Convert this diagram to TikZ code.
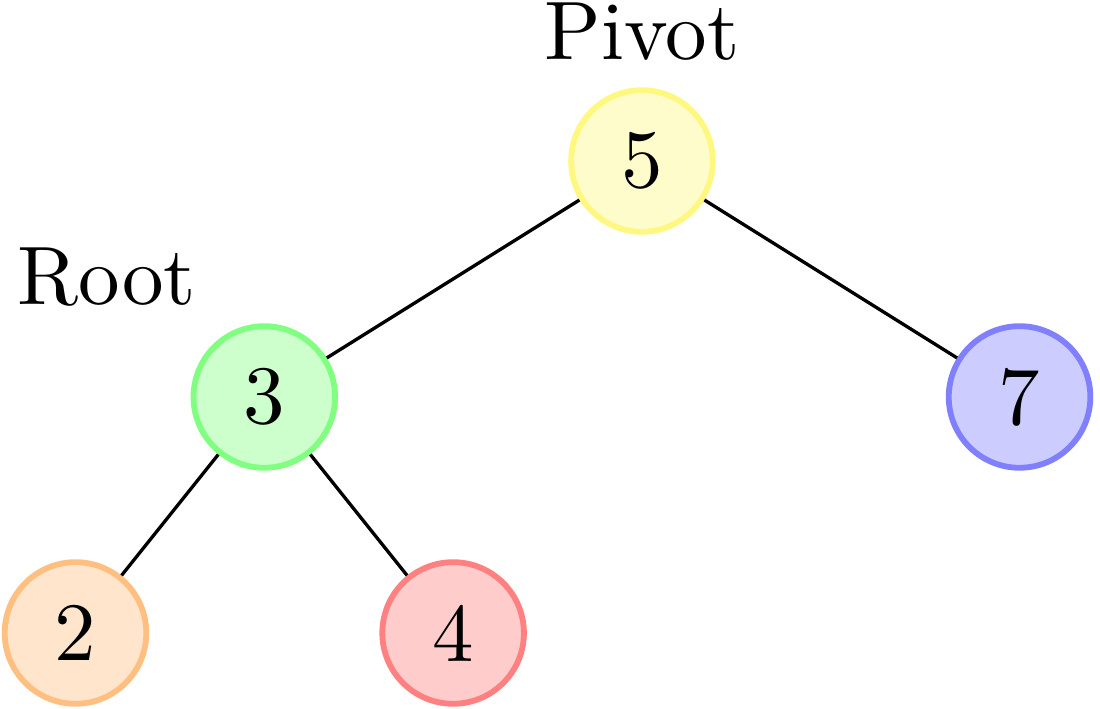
\documentclass[tikz,border=0pt]{standalone}
\usepackage{tikz}

\begin{document}
\begin{tikzpicture}[
    vertex/.style={circle, draw, line width=0.7pt, minimum size=0.6cm, inner sep=0pt},
    link/.style={draw, black}
]
\useasboundingbox (-2.72,-2.318) rectangle (1.941,0.682);

% Pivot
\node[vertex, draw=yellow!50, fill=yellow!20] (n5) at (0,0) {5};
\node (pivot) at (0,0.55) {Pivot};

% Root
\node[vertex, draw=green!50, fill=green!20] (n3) at (-1.6,-1) {3};
\node (root) at (-2.267,-0.49) {Root};

% Right child
\node[vertex, draw=blue!50, fill=blue!20] (n7) at (1.6,-1) {7};

% Leaves
\node[vertex, draw=orange!50, fill=orange!20] (n2) at (-2.4,-2) {2};
\node[vertex, draw=red!50, fill=red!20] (n4) at (-0.8,-2) {4};

% Edges
\path[link] (n5) -- (n3);
\path[link] (n5) -- (n7);
\path[link] (n3) -- (n2);
\path[link] (n3) -- (n4);

\end{tikzpicture}
\end{document}
